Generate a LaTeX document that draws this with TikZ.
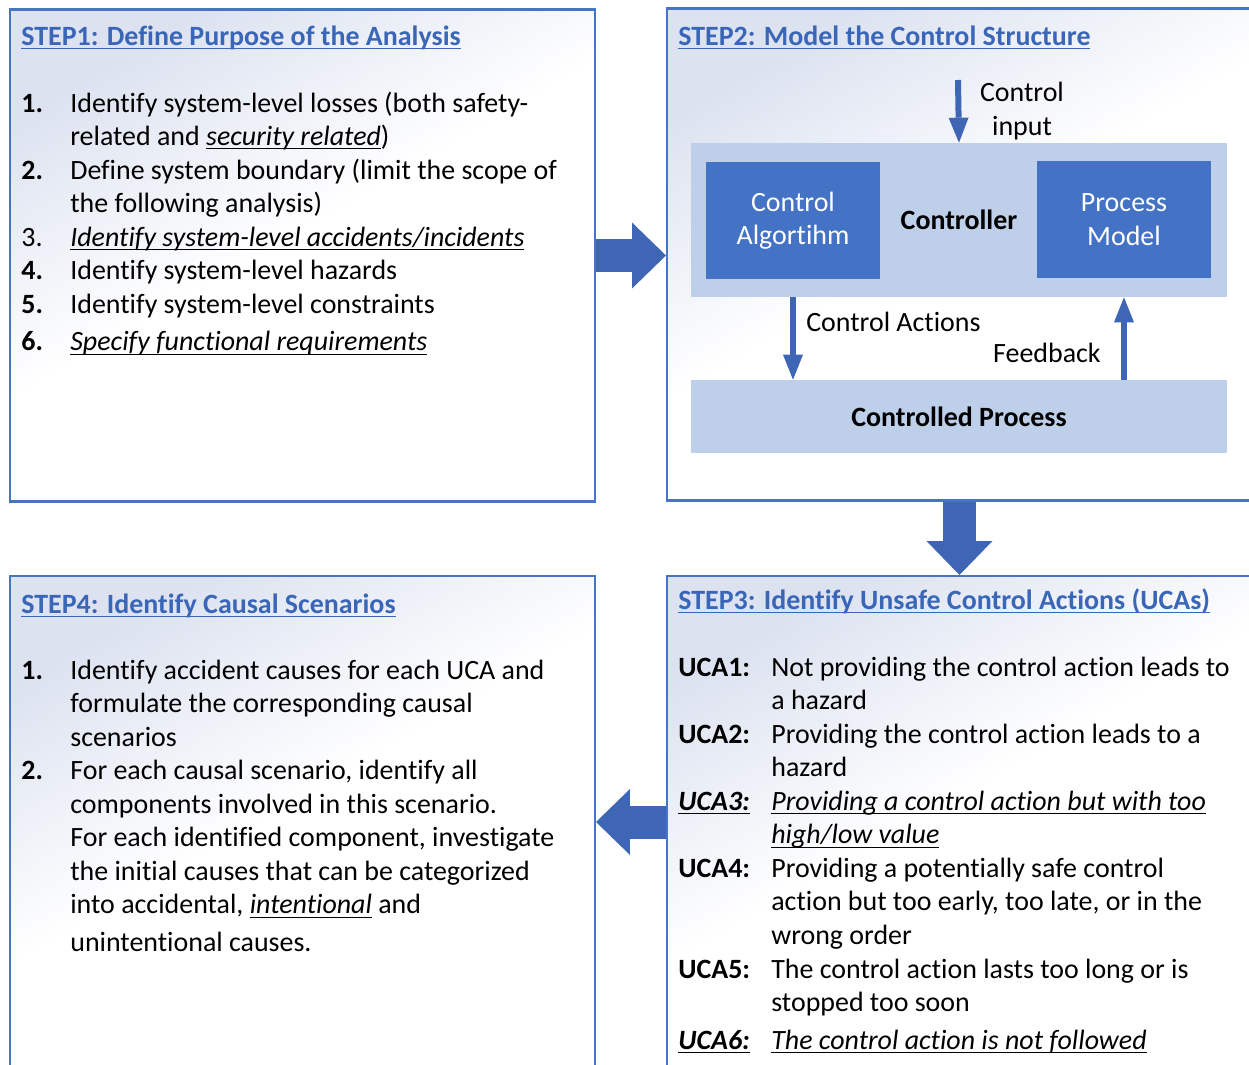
\documentclass[tikz,border=0pt]{standalone}
\usepackage{fontspec}
\setmainfont{Carlito}[Ligatures=NoCommon]
\usetikzlibrary{arrows.meta,positioning}

\definecolor{stepblue}{RGB}{72,116,196}
\definecolor{arrowblue}{RGB}{63,102,180}
\definecolor{titleblue}{RGB}{58,102,184}
\definecolor{stepfill}{RGB}{220,226,240}
\definecolor{ctrlfill}{RGB}{189,207,233}
\definecolor{algofill}{RGB}{68,114,196}

\pgfdeclareverticalshading{stepshade}{100bp}{color(0bp)=(white); color(25bp)=(white); color(52bp)=(white); color(75bp)=(stepfill); color(100bp)=(stepfill)}

\newsavebox{\undlbox}
\newcommand{\undl}[1]{\leavevmode\sbox{\undlbox}{#1}\rlap{\rule[-2.2pt]{\wd\undlbox}{0.6pt}}\usebox{\undlbox}}
\newcommand{\stpfont}{\fontsize{15.9}{19.1}\selectfont}
\newcommand{\steptitle}[1]{\textcolor{titleblue}{\undl{\textbf{#1}}}}

\begin{document}
\begin{tikzpicture}[x=0.02cm, y=-0.02cm, font=\stpfont,
  stepbox/.style={draw=stepblue, line width=1.2pt, shading=stepshade, shading angle=30, minimum width=11.7cm, minimum height=9.84cm, inner sep=0},
  ctrlbox/.style={fill=ctrlfill, minimum width=10.72cm, inner sep=0, font=\stpfont\bfseries},
  algobox/.style={fill=algofill, text=white, align=center, minimum width=3.48cm, minimum height=2.34cm, inner sep=0},
  bigarrow/.style={draw=arrowblue, line width=0.66cm, -{Triangle[length=0.68cm, width=1.32cm, line width=0pt]}},
  thinarrow/.style={draw=arrowblue, line width=0.12cm, -{Triangle[length=0.5cm, width=0.4cm, line width=0pt]}},
  titletext/.style={anchor=base west, inner sep=0},
  listtext/.style={anchor=base west, inner sep=0}]
  \useasboundingbox (0,0) rectangle (1249,1065);

  \node[stepbox] (step1) at (302.5,255.5) {};
  \node[stepbox] (step2) at (959.5,254.5) {};
  \node[stepbox] (step3) at (959.5,822) {};
  \node[stepbox] (step4) at (302.5,822) {};

  \node[titletext] (title1) at (21,45) {\steptitle{STEP1: Define Purpose of the Analysis}};
  \node[titletext] (title2) at (678,45) {\steptitle{STEP2: Model the Control Structure}};
  \node[titletext] (title3) at (678,609) {\steptitle{STEP3: Identify Unsafe Control Actions (UCAs)}};
  \node[titletext] (title4) at (21,613) {\steptitle{STEP4: Identify Causal Scenarios}};

  \node[listtext] (list1) at (21,112) {%
    \begin{tabular}[t]{@{}p{0.98cm}@{}l@{}}
      \textbf{1.} & Identify system-level losses (both safety-\\
                  & related and \undl{\textit{security related}})\\
      \textbf{2.} & Define system boundary (limit the scope of\\
                  & the following analysis)\\
      3.          & \undl{\textit{Identify system-level accidents/incidents}}\\
      \textbf{4.} & Identify system-level hazards\\
      \textbf{5.} & Identify system-level constraints\\[0.08cm]
      \textbf{6.} & \undl{\textit{Specify functional requirements}}
    \end{tabular}};

  \node[ctrlbox, minimum height=3.08cm] (controller) at (959,220) {Controller};
  \node[algobox] (algo) at (793,220.5) {Control\\Algortihm};
  \node[algobox] (model) at (1124,219.5) {Process\\Model};
  \node[ctrlbox, minimum height=1.46cm] (process) at (959,416.5) {Controlled Process};

  \coordinate (cin) at (958,80);
  \draw[thinarrow] (cin) -- (controller.north);
  \draw[thinarrow] (algo |- controller.south) -- (algo |- process.north);
  \draw[thinarrow] (model |- process.north) -- (model |- controller.south);
  \node[align=center, inner sep=0] (cinlabel) at (1022,111) {Control\\input};
  \node[anchor=base west, inner sep=0] (actlabel) at (806,331) {Control Actions};
  \node[anchor=base east, inner sep=0] (fblabel) at (1101,362) {Feedback};

  \node[listtext] (list3) at (678,676) {%
    \begin{tabular}[t]{@{}p{1.86cm}@{}l@{}}
      \textbf{UCA1:} & Not providing the control action leads to\\
                     & a hazard\\
      \textbf{UCA2:} & Providing the control action leads to a\\
                     & hazard\\
      \undl{\textit{\textbf{UCA3:}}} & \undl{\textit{Providing a control action but with too}}\\
                     & \undl{\textit{high/low value}}\\
      \textbf{UCA4:} & Providing a potentially safe control\\
                     & action but too early, too late, or in the\\
                     & wrong order\\
      \textbf{UCA5:} & The control action lasts too long or is\\
                     & stopped too soon\\[0.08cm]
      \undl{\textit{\textbf{UCA6:}}} & \undl{\textit{The control action is not followed}}
    \end{tabular}};

  \node[listtext] (list4) at (21,679) {%
    \begin{tabular}[t]{@{}p{0.98cm}@{}l@{}}
      \textbf{1.} & Identify accident causes for each UCA and\\
                  & formulate the corresponding causal\\
                  & scenarios\\
      \textbf{2.} & For each causal scenario, identify all\\
                  & components involved in this scenario.\\
                  & For each identified component, investigate\\
                  & the initial causes that can be categorized\\
                  & into accidental, \undl{\textit{intentional}} and\\[0.08cm]
                  & unintentional causes.
    \end{tabular}};

  \draw[bigarrow] (step1.east) -- (step1.east -| step2.west);
  \draw[bigarrow] (step2.south) -- (step2.south |- step3.north);
  \draw[bigarrow] (step3.west) -- (step4.east);
\end{tikzpicture}
\end{document}
